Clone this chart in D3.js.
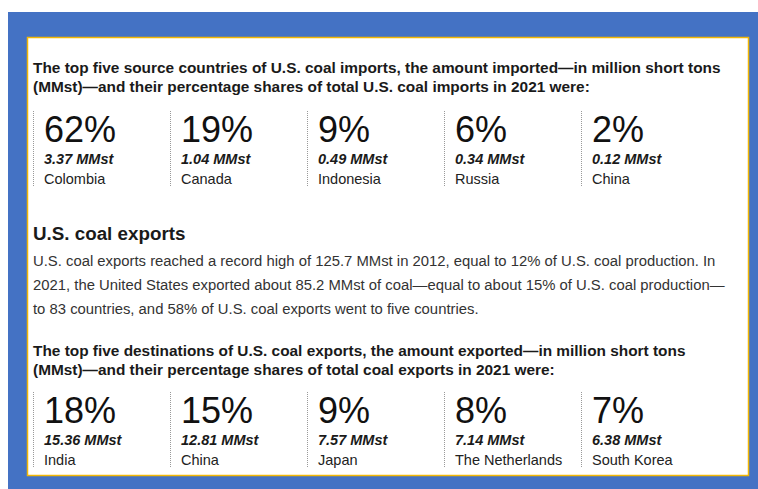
<!DOCTYPE html>
<html>
<head>
<meta charset="utf-8">
<script src="https://cdn.jsdelivr.net/npm/d3@7"></script>
<style>
  body { margin: 0; background: #fff; }
  svg { display: block; font-family: 'Liberation Sans', Arial, sans-serif; }
</style>
</head>
<body>
<svg class="facts" width="758" height="489"></svg>
<script>
// imports 2021
const importCountries = ['Colombia', 'Canada', 'Indonesia', 'Russia', 'China'];
const importShares = [62, 19, 9, 6, 2];
const importAmounts = [3.37, 1.04, 0.49, 0.34, 0.12];

// exports 2021
const exportCountries = ['India', 'China', 'Japan', 'The Netherlands', 'South Korea'];
const exportShares = [18, 15, 9, 8, 7];
const exportAmounts = [15.36, 12.81, 7.57, 7.14, 6.38];

const importTitle = [
  'The top five source countries of U.S. coal imports, the amount imported\u2014in million short tons',
  '(MMst)\u2014and their percentage shares of total U.S. coal imports in 2021 were:'
];
const exportHeading = 'U.S. coal exports';
const exportText = [
  'U.S. coal exports reached a record high of 125.7 MMst in 2012, equal to 12% of U.S. coal production. In',
  '2021, the United States exported about 85.2 MMst of coal\u2014equal to about 15% of U.S. coal production\u2014',
  'to 83 countries, and 58% of U.S. coal exports went to five countries.'
];
const exportTitle = [
  'The top five destinations of U.S. coal exports, the amount exported\u2014in million short tons',
  '(MMst)\u2014and their percentage shares of total coal exports in 2021 were:'
];

const svg = d3.select('svg.facts');

// blue frame + white panel with gold edge
svg.append('rect')
  .attr('x', 8).attr('y', 12)
  .attr('width', 750).attr('height', 477)
  .attr('fill', '#4472c4');
svg.append('rect')
  .attr('x', 27.5).attr('y', 37.5)
  .attr('width', 721).attr('height', 438)
  .attr('fill', '#fff')
  .attr('stroke', '#f2b705')
  .attr('stroke-width', 1.5);

const x = d3.scaleBand().domain(d3.range(5)).range([33, 718]);

function titleBlock(lines, y0) {
  svg.append('g')
    .selectAll('text')
    .data(lines)
    .join('text')
    .attr('x', 33)
    .attr('y', (d, i) => y0 + i * 19.5)
    .attr('font-size', 15.4)
    .attr('font-weight', 'bold')
    .attr('fill', '#1a1a1a')
    .text(d => d);
}

function statRow(countries, shares, amounts, y0) {
  const rows = countries.map((c, i) => ({ country: c, share: shares[i], amount: amounts[i], i }));
  const g = svg.append('g')
    .selectAll('g')
    .data(rows)
    .join('g')
    .attr('transform', d => 'translate(' + x(d.i) + ',' + y0 + ')');

  g.append('line')
    .attr('x1', 0.5).attr('x2', 0.5)
    .attr('y1', 0).attr('y2', 76)
    .attr('stroke', '#999')
    .attr('stroke-dasharray', '1,1');

  g.append('text')
    .attr('x', 11).attr('y', 31)
    .attr('font-size', 36)
    .attr('fill', '#111')
    .text(d => d.share + '%');

  g.append('text')
    .attr('x', 11).attr('y', 53)
    .attr('font-size', 14.5)
    .attr('font-weight', 'bold')
    .attr('font-style', 'italic')
    .attr('fill', '#1a1a1a')
    .text(d => d3.format('.2f')(d.amount) + ' MMst');

  g.append('text')
    .attr('x', 11).attr('y', 72.7)
    .attr('font-size', 14.5)
    .attr('fill', '#222')
    .text(d => d.country);
}

titleBlock(importTitle, 72.7);
statRow(importCountries, importShares, importAmounts, 111);

svg.append('text')
  .attr('x', 33).attr('y', 239.5)
  .attr('font-size', 18.8)
  .attr('font-weight', 'bold')
  .attr('fill', '#1a1a1a')
  .text(exportHeading);

svg.append('g')
  .selectAll('text')
  .data(exportText)
  .join('text')
  .attr('x', 33)
  .attr('y', (d, i) => 265.7 + i * 24.2)
  .attr('font-size', 14.85)
  .attr('fill', '#333')
  .text(d => d);

titleBlock(exportTitle, 355.5);
statRow(exportCountries, exportShares, exportAmounts, 392);
</script>
</body>
</html>
